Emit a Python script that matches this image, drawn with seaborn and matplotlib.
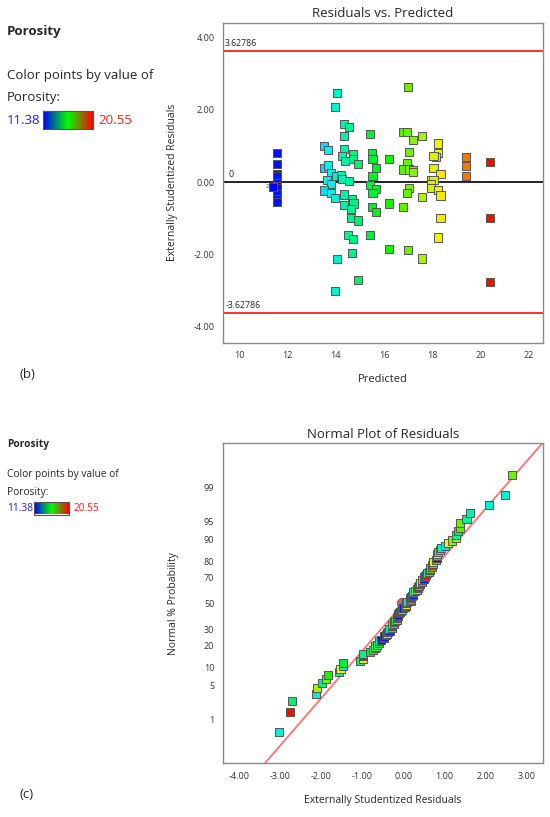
import numpy as np
import pandas as pd
import matplotlib
matplotlib.use('Agg')
import matplotlib.pyplot as plt
import matplotlib.colors as mcolors
import seaborn as sns
from statistics import NormalDist

# Residuals vs predicted (Porosity model)
predicted = [
    11.57, 11.57, 11.57, 11.57, 11.57, 11.57, 11.57, 11.57, 11.57, 11.57, 11.40, 11.40,
    14.07, 13.97, 14.35, 14.56, 14.35, 15.42, 13.51, 13.68, 14.35, 14.25,
    14.72, 14.38, 14.72, 14.94, 15.50, 15.53, 16.22, 15.67, 13.51, 13.68,
    13.79, 14.00, 14.21, 14.25, 13.65, 13.79, 14.56, 15.53, 15.42, 15.67,
    15.53, 13.51, 13.79, 13.97, 14.35, 14.69, 14.74, 14.35, 14.63, 14.63,
    14.94, 15.50, 15.67, 16.22, 14.53, 14.72, 15.42, 14.69, 16.22, 14.07,
    14.93, 13.97,
    16.99, 16.78, 16.96, 17.22, 17.57, 18.24, 17.06, 18.24, 18.17, 18.06,
    19.39, 20.39, 16.96, 16.80, 17.06, 17.22, 17.22, 18.06, 18.35, 19.39,
    19.39, 17.96, 18.06, 17.96, 17.96, 18.24, 18.35, 17.06, 16.96, 17.57,
    16.80, 18.35, 20.39, 18.24, 16.99, 17.57, 20.39,
]
residuals = [
    0.81, 0.49, 0.23, 0.17, -0.02, -0.11, -0.16, -0.34, -0.48, -0.55, -0.14, -0.14,
    2.47, 2.07, 1.61, 1.53, 1.27, 1.32, 1.01, 0.88, 0.92, 0.72,
    0.79, 0.58, 0.63, 0.51, 0.81, 0.64, 0.65, 0.38, 0.40, 0.46,
    0.24, 0.17, 0.21, 0.09, 0.07, -0.04, 0.03, 0.17, -0.09, -0.20,
    -0.29, -0.23, -0.29, -0.43, -0.34, -0.48, -0.59, -0.64, -0.75, -0.98,
    -1.06, -0.69, -0.82, -0.59, -1.47, -1.56, -1.47, -1.97, -1.84, -2.13,
    -2.71, -3.02,
    2.63, 1.38, 1.38, 1.17, 1.27, 1.07, 0.83, 0.81, 0.70, 0.72,
    0.70, 0.55, 0.53, 0.35, 0.35, 0.33, 0.28, 0.40, 0.23, 0.44,
    0.18, 0.07, 0.07, -0.06, -0.16, -0.22, -0.37, -0.16, -0.29, -0.40,
    -0.68, -0.99, -0.98, -1.53, -1.88, -2.11, -2.76,
]
limit = 3.62786
porosity_min, porosity_max = 11.38, 20.55

prob_ticks = [1, 5, 10, 20, 30, 50, 70, 80, 90, 95, 99]
line_slope = 0.953        # fitted normal line, z per residual unit
highlight = (-0.04, 50)   # selected point on normal plot

df = pd.DataFrame({'Predicted': predicted, 'Residual': residuals})

# rainbow colouring for points (blue -> cyan -> green -> yellow -> red)
hues = np.linspace(0.667, 0.0, 256)
point_cmap = mcolors.ListedColormap(
    mcolors.hsv_to_rgb(np.column_stack([hues, np.ones(256), np.full(256, 0.95)])))
legend_cmap = mcolors.LinearSegmentedColormap.from_list('bgr', ['#0000ff', '#00ff00', '#ff0000'])

sns.set_style('white')
plt.rcParams['font.family'] = ['Open Sans', 'DejaVu Sans']

fig = plt.figure(figsize=(5.5, 8.17), dpi=100)
W, H = 550, 817


def px(x, y):
    return x / W, 1 - y / H


def style_axes(ax):
    for s in ax.spines.values():
        s.set_color('#8a8a8a')
        s.set_linewidth(1.0)
    ax.tick_params(axis='both', direction='out', length=4, width=0.8, color='#555555',
                   labelsize=6.5, labelcolor='#333333', pad=2)


def legend_block(y0, big):
    fs = 9.5 if big else 7.3
    fig.text(*px(7, y0), 'Porosity', fontsize=fs, fontweight='bold', va='center', ha='left')
    gap = 43 if big else 31
    fig.text(*px(7, y0 + gap), 'Color points by value of', fontsize=fs, va='center')
    gap2 = 66 if big else 49
    fig.text(*px(7, y0 + gap2), 'Porosity:', fontsize=fs, va='center')
    yb = y0 + (88 if big else 64)
    fig.text(*px(7, yb), f'{porosity_min:.2f}', fontsize=fs, color='#1a1aff', va='center')
    if big:
        x0, x1, h = 43, 93, 18
    else:
        x0, x1, h = 34, 69, 13
    fig.text(*px(x1 + 5, yb), f'{porosity_max:.2f}', fontsize=fs, color='#ff2020', va='center')
    cax = fig.add_axes([x0 / W, 1 - (yb + h / 2) / H, (x1 - x0) / W, h / H])
    cax.imshow(np.linspace(0, 1, 100)[None, :], aspect='auto', cmap=legend_cmap)
    cax.set_xticks([])
    cax.set_yticks([])
    for s in cax.spines.values():
        s.set_color('#555555')
        s.set_linewidth(0.8)


# ---------- (b) Residuals vs Predicted ----------
ax1 = fig.add_axes([223 / W, 1 - 342.7 / H, 320 / W, 320 / H])
ax1.axhline(limit, color='#ff3030', lw=1.4, zorder=1)
ax1.axhline(-limit, color='#ff3030', lw=1.4, zorder=1)
ax1.axhline(0, color='#111111', lw=1.3, zorder=1)
sns.scatterplot(data=df, x='Predicted', y='Residual', hue='Predicted', palette=point_cmap,
                hue_norm=(porosity_min, porosity_max), marker='s', s=34,
                edgecolor='#555555', linewidth=0.7, legend=False, ax=ax1, zorder=3)
ax1.text(9.42, limit + 0.08, f'{limit:.5f}', fontsize=6.3, color='#222222', va='bottom')
ax1.text(9.42, -limit + 0.08, f'{-limit:.5f}', fontsize=6.3, color='#222222', va='bottom')
ax1.text(9.55, 0.08, '0', fontsize=6.3, color='#222222', va='bottom')
ax1.text(11.22, -0.12, '2', fontsize=4, color='#333333', va='center', ha='right')
ax1.set_xlim(9.33, 22.6)
ax1.set_ylim(-4.44, 4.41)
ax1.set_xticks([10, 12, 14, 16, 18, 20, 22])
ax1.set_yticks([-4, -2, 0, 2, 4])
ax1.set_yticklabels([f'{v:.2f}' for v in [-4, -2, 0, 2, 4]])
ax1.set_title('Residuals vs. Predicted', fontsize=9.5, pad=4)
ax1.set_xlabel('Predicted', fontsize=8, labelpad=10)
ax1.set_ylabel('Externally Studentized Residuals', fontsize=7.5, labelpad=11)
style_axes(ax1)

legend_block(32, True)
fig.text(*px(19, 374), '(b)', fontsize=9.5, va='center')

# ---------- (c) Normal plot of residuals ----------
nd = NormalDist()
order = np.argsort(residuals)
n = len(residuals)
norm_df = pd.DataFrame({
    'Residual': np.array(residuals)[order],
    'Predicted': np.array(predicted)[order],
    'z': [nd.inv_cdf((i - 0.5) / n) for i in range(1, n + 1)],
})

ax2 = fig.add_axes([222.7 / W, 1 - 763.3 / H, 320 / W, 320 / H])
line_x = np.array([-4.4, 3.4])
ax2.plot(line_x, line_slope * line_x, color='#ff7070', lw=1.3, zorder=1)
sns.scatterplot(data=norm_df, x='Residual', y='z', hue='Predicted', palette=point_cmap,
                hue_norm=(porosity_min, porosity_max), marker='s', s=34,
                edgecolor='#555555', linewidth=0.7, legend=False, ax=ax2, zorder=3)
ax2.scatter([highlight[0]], [nd.inv_cdf(highlight[1] / 100)], s=55, marker='o',
            color='#c06a6a', edgecolor='#804040', linewidth=0.6, zorder=2)
ax2.set_xlim(-4.39, 3.38)
ax2.set_ylim(-3.21, 3.21)
ax2.set_xticks(np.arange(-4, 4))
ax2.set_xticklabels([f'{v:.2f}' for v in np.arange(-4, 4)])
ax2.set_yticks([nd.inv_cdf(p / 100) for p in prob_ticks])
ax2.set_yticklabels([str(p) for p in prob_ticks])
ax2.set_yticks([nd.inv_cdf(p / 100) for p in range(1, 100)], minor=True)
ax2.tick_params(axis='y', which='minor', length=2.5, width=0.5, color='#777777')
ax2.set_title('Normal Plot of Residuals', fontsize=9.5, pad=4)
ax2.set_xlabel('Externally Studentized Residuals', fontsize=7.5, labelpad=10)
ax2.set_ylabel('Normal % Probability', fontsize=7.5, labelpad=18)
style_axes(ax2)

legend_block(444, False)
fig.text(*px(19, 795), '(c)', fontsize=9.5, va='center')

plt.savefig('out.png', dpi=100)
print("Figure save: out.png")
